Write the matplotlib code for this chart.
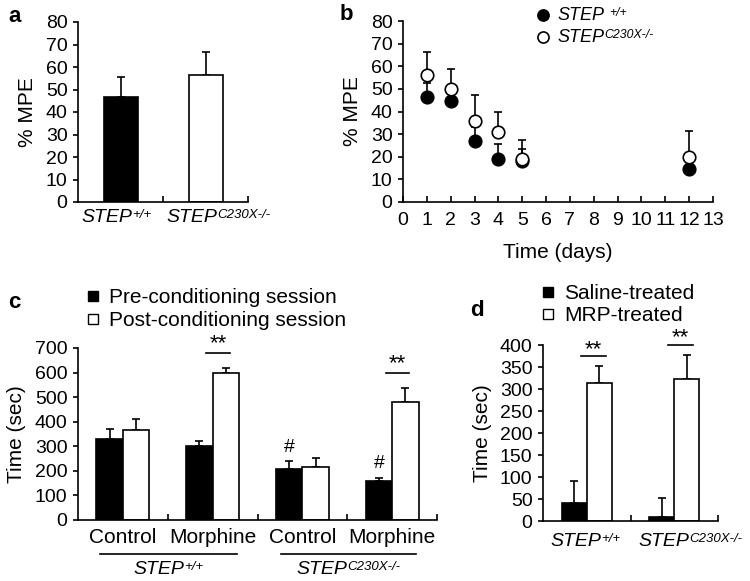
import numpy as np
import matplotlib.pyplot as plt
from matplotlib.lines import Line2D
from matplotlib.offsetbox import TextArea, HPacker, AnnotationBbox

plt.rcParams['font.family'] = ['Liberation Sans', 'DejaVu Sans']

WT = '+/+'
KO = 'C230X-/-'

## panel a
a_groups = [WT, KO]
a_mean = [46.5, 56.5]
a_err = [9.0, 10.0]

## panel b
b_days = [1, 2, 3, 4, 5, 12]
b_wt = [46.5, 44.5, 27.0, 19.0, 18.0, 14.5]
b_wt_err = [6.0, 5.0, 6.0, 6.5, 5.5, 4.0]
b_ko = [56.0, 50.0, 36.0, 31.0, 19.0, 20.0]
b_ko_err = [10.5, 9.0, 11.5, 9.0, 8.5, 11.5]

## panel c
c_groups = ['Control', 'Morphine', 'Control', 'Morphine']
c_pre = [330, 300, 207, 160]
c_pre_err = [40, 22, 33, 12]
c_post = [368, 600, 217, 480]
c_post_err = [45, 18, 36, 57]

## panel d
d_groups = [WT, KO]
d_saline = [40, 10]
d_saline_err = [50, 42]
d_mrp = [313, 322]
d_mrp_err = [39, 56]

fs = 14
lw = 1.2
W, H = 750, 581


def box(l, t, r, b):
    return [l / W, 1 - b / H, (r - l) / W, (b - t) / H]


def style(ax):
    for s in ['top', 'right']:
        ax.spines[s].set_visible(False)
    for s in ['left', 'bottom']:
        ax.spines[s].set_linewidth(lw)
    ax.tick_params(axis='y', direction='out', length=3.5, width=lw, labelsize=fs, pad=4)
    ax.tick_params(axis='x', direction='in', length=4, width=lw, labelsize=fs)


def bars(ax, x, vals, errs, width, color):
    ax.bar(x, vals, width, color=color, edgecolor='black', linewidth=lw, zorder=2)
    ax.errorbar(x, vals, yerr=[np.zeros(len(errs)), errs], fmt='none',
                ecolor='black', elinewidth=lw, capsize=3, capthick=lw, zorder=1)


def group_ticks(ax, n):
    ax.set_xlim(0, n)
    ax.set_xticks(np.arange(1, n + 1))
    ax.set_xticklabels([])


def step_label(sup, size, sep=0):
    main = TextArea('STEP', textprops=dict(fontsize=size, fontstyle='italic'))
    s = TextArea(sup, textprops=dict(fontsize=size * 0.68, fontstyle='italic'))
    return HPacker(children=[main, s], align='top', pad=0, sep=sep)


def put(ax, obj, xy, coords, align, offset=(0, 0)):
    ab = AnnotationBbox(obj, xy, xycoords=coords, xybox=offset, boxcoords='offset points',
                        box_alignment=align, frameon=False, pad=0, annotation_clip=False)
    ax.add_artist(ab)


fig = plt.figure(figsize=(7.5, 5.81), dpi=100)

# ---- a
ax = fig.add_axes(box(78, 22, 248, 202))
style(ax)
xa = np.arange(len(a_mean)) + 0.5
bars(ax, xa[:1], a_mean[:1], a_err[:1], 0.4, 'black')
bars(ax, xa[1:], a_mean[1:], a_err[1:], 0.4, 'white')
group_ticks(ax, 2)
ax.set_ylim(0, 80)
ax.set_yticks(range(0, 81, 10))
ax.set_ylabel('% MPE', fontsize=fs + 1, labelpad=6)
for x, g in zip(xa, a_groups):
    put(ax, step_label(g, fs), (x, 0), ('data', 'data'), (0, 1), (-28, -5))

# ---- b
ax = fig.add_axes(box(403, 21, 713, 202))
style(ax)
ax.errorbar(b_days, b_wt, yerr=[np.zeros(6), b_wt_err], fmt='none', ecolor='black',
            elinewidth=lw, capsize=3, capthick=lw, zorder=1)
ax.errorbar(b_days, b_ko, yerr=[np.zeros(6), b_ko_err], fmt='none', ecolor='black',
            elinewidth=lw, capsize=3, capthick=lw, zorder=1)
ax.plot(b_days, b_wt, 'o', ms=9, mfc='black', mec='black', mew=lw, zorder=3, clip_on=False)
ax.plot(b_days, b_ko, 'o', ms=9, mfc='white', mec='black', mew=lw, zorder=4, clip_on=False)
ax.set_xlim(0, 13)
ax.set_xticks(range(0, 14))
ax.set_ylim(0, 80)
ax.set_yticks(range(0, 81, 10))
ax.set_ylabel('% MPE', fontsize=fs + 1, labelpad=6)
ax.set_xlabel('Time (days)', fontsize=fs + 1, labelpad=10)
ax.tick_params(axis='x', pad=7)
# legend for b
for yy, fc, sup, sp in [(15, 'black', WT, 4), (37, 'white', KO, 0)]:
    ax.add_artist(Line2D([543 / W], [1 - yy / H], transform=fig.transFigure, marker='o',
                         ls='', ms=8, mfc=fc, mec='black', mew=lw, clip_on=False))
    put(ax, step_label(sup, fs - 1, sep=sp), (557, H - yy), 'figure pixels', (0, 0.5))

# ---- c
ax = fig.add_axes(box(78, 348, 437, 520))
style(ax)
xc = np.arange(len(c_pre)) + 0.5
bw = 0.295
bars(ax, xc - bw / 2, c_pre, c_pre_err, bw, 'black')
bars(ax, xc + bw / 2, c_post, c_post_err, bw, 'white')
group_ticks(ax, 4)
ax.set_ylim(0, 700)
ax.set_yticks(range(0, 701, 100))
ax.set_ylabel('Time (sec)', fontsize=fs + 1, labelpad=6)
for x, g in zip(xc, c_groups):
    ax.text(x, -33, g, ha='center', va='top', fontsize=fs + 1)
for x0, x1, g in [(0.24, 1.77, WT), (2.26, 3.77, KO)]:
    ax.plot([x0, x1], [-140, -140], color='black', lw=lw, clip_on=False)
    put(ax, step_label(g, fs), ((x0 + x1) / 2, -140), ('data', 'data'), (0.5, 1), (0, -5))
for i in [1, 3]:
    yl = c_post[i] + c_post_err[i] + 62
    ax.plot([xc[i] - 0.07, xc[i] + 0.19], [yl, yl], color='black', lw=lw, clip_on=False)
    ax.text(xc[i] + 0.06, yl - 5, '**', ha='center', va='bottom', fontsize=fs + 2)
for i in [2, 3]:
    ax.text(xc[i] - bw / 2, c_pre[i] + c_pre_err[i] + 22, '#', ha='center',
            va='bottom', fontsize=fs)
hc = [Line2D([], [], marker='s', ls='', ms=7, mfc='black', mec='black', mew=1),
      Line2D([], [], marker='s', ls='', ms=7, mfc='white', mec='black', mew=1)]
fig.legend(hc, ['Pre-conditioning session', 'Post-conditioning session'],
           loc='upper left', bbox_to_anchor=(85 / W, 1 - 288 / H), frameon=False,
           fontsize=fs + 1, handlelength=0.8, handletextpad=0.35, labelspacing=0.2,
           borderpad=0, borderaxespad=0)

# ---- d
ax = fig.add_axes(box(543, 345, 718, 521))
style(ax)
xd = np.arange(len(d_mrp)) + 0.5
bw = 0.285
bars(ax, xd - bw / 2, d_saline, d_saline_err, bw, 'black')
bars(ax, xd + bw / 2, d_mrp, d_mrp_err, bw, 'white')
group_ticks(ax, 2)
ax.set_ylim(0, 400)
ax.set_yticks(range(0, 401, 50))
ax.set_ylabel('Time (sec)', fontsize=fs + 1, labelpad=6)
for x, g in zip(xd, d_groups):
    put(ax, step_label(g, fs), (x, 0), ('data', 'data'), (0, 1), (-26, -9))
for i in range(2):
    yl = d_mrp[i] + d_mrp_err[i] + 22
    ax.plot([xd[i] - 0.07, xd[i] + 0.215], [yl, yl], color='black', lw=lw, clip_on=False)
    ax.text(xd[i] + 0.07, yl - 8, '**', ha='center', va='bottom', fontsize=fs + 2,
            clip_on=False)
hd = [Line2D([], [], marker='s', ls='', ms=7, mfc='black', mec='black', mew=1),
      Line2D([], [], marker='s', ls='', ms=7, mfc='white', mec='black', mew=1)]
fig.legend(hd, ['Saline-treated', 'MRP-treated'],
           loc='upper left', bbox_to_anchor=(540 / W, 1 - 284 / H), frameon=False,
           fontsize=fs + 1, handlelength=0.8, handletextpad=0.35, labelspacing=0.15,
           borderpad=0, borderaxespad=0)

# panel letters
for lab, x, y in [('a', 8, 6), ('b', 340, 4), ('c', 8, 292), ('d', 470, 300)]:
    fig.text(x / W, 1 - y / H, lab, fontsize=fs + 2, fontweight='bold', va='top')

fig.savefig('out.png', dpi=100)
